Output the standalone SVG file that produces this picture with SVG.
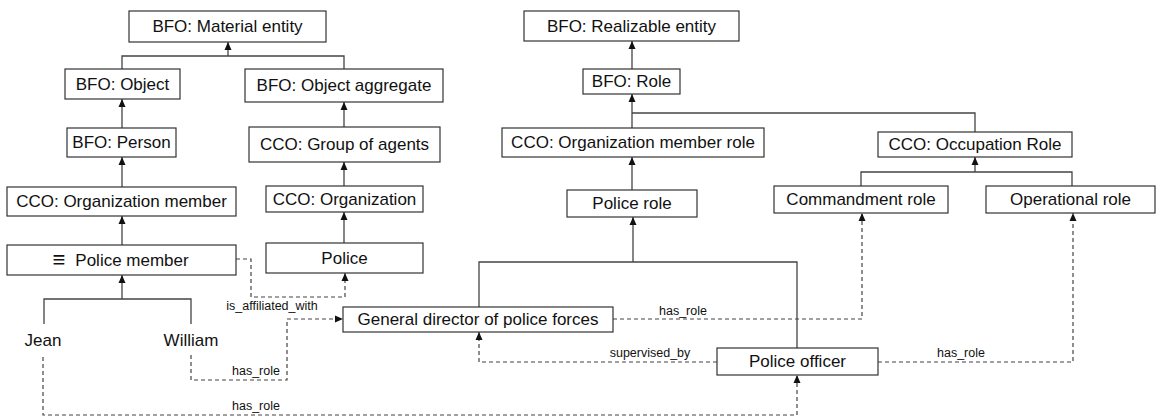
<svg xmlns="http://www.w3.org/2000/svg" width="1156" height="417" viewBox="0 0 1156 417">
<defs>
<marker id="ah" viewBox="0 0 8 8" refX="8" refY="4" markerWidth="8" markerHeight="8" markerUnits="userSpaceOnUse" orient="auto">
<path d="M0,0.5 L8,4 L0,7.5 Z" fill="#111"/>
</marker>
<style>
.box{fill:#fff;stroke:#333;stroke-width:1.2}
.t{font-family:"Liberation Sans",Arial,sans-serif;font-size:17px;fill:#111;text-anchor:middle}
.lbl{font-family:"Liberation Sans",Arial,sans-serif;font-size:12.5px;fill:#111;text-anchor:middle}
.s{fill:none;stroke:#444;stroke-width:1.3}
.d{fill:none;stroke:#444;stroke-width:1.2;stroke-dasharray:4 3}
</style>
</defs>
<rect width="1156" height="417" fill="#fff"/>
<g id="connectors">
<path class="s" d="M122,69 V56 H344 V69"/>
<path class="s" d="M228,56 V42" marker-end="url(#ah)"/>
<path class="s" d="M122,128 V99" marker-end="url(#ah)"/>
<path class="s" d="M122,187 V157" marker-end="url(#ah)"/>
<path class="s" d="M122,245 V216" marker-end="url(#ah)"/>
<path class="s" d="M44,324 V299 H191 V324"/>
<path class="s" d="M122,299 V275" marker-end="url(#ah)"/>
<path class="s" d="M344,127 V102" marker-end="url(#ah)"/>
<path class="s" d="M344,186 V162" marker-end="url(#ah)"/>
<path class="s" d="M344,243 V212" marker-end="url(#ah)"/>
<path class="s" d="M632,69 V41" marker-end="url(#ah)"/>
<path class="s" d="M632,128 V94" marker-end="url(#ah)"/>
<path class="s" d="M632,113 H975 V132"/>
<path class="s" d="M632,190 V157" marker-end="url(#ah)"/>
<path class="s" d="M861,186 V172 H1072 V186"/>
<path class="s" d="M975,172 V157" marker-end="url(#ah)"/>
<path class="s" d="M479,307 V262 H797 V348"/>
<path class="s" d="M633,262 V217" marker-end="url(#ah)"/>
<path class="d" d="M236,259 H251 V297 H345 V273" marker-end="url(#ah)"/>
<path class="d" d="M191,355 V380 H287 V319 H343" marker-end="url(#ah)"/>
<path class="d" d="M43,357 V415 H797 V375" marker-end="url(#ah)"/>
<path class="d" d="M613,319 H862 V213" marker-end="url(#ah)"/>
<path class="d" d="M717,362 H479 V332" marker-end="url(#ah)"/>
<path class="d" d="M878,362 H1073 V213" marker-end="url(#ah)"/>
<text class="lbl" x="272" y="310">is_affiliated_with</text>
<text class="lbl" x="256" y="375">has_role</text>
<text class="lbl" x="256" y="410">has_role</text>
<text class="lbl" x="683" y="315">has_role</text>
<text class="lbl" x="650" y="357">supervised_by</text>
<text class="lbl" x="961" y="357">has_role</text>
</g>
<g id="material-entity"><rect class="box" x="129" y="11" width="197" height="31"/><text class="t" x="227.5" y="32">BFO: Material entity</text></g>
<g id="object"><rect class="box" x="65" y="69" width="115" height="30"/><text class="t" x="122.5" y="90">BFO: Object</text></g>
<g id="object-aggregate"><rect class="box" x="245" y="69" width="198" height="33"/><text class="t" x="344" y="91">BFO: Object aggregate</text></g>
<g id="person"><rect class="box" x="67" y="128" width="109" height="29"/><text class="t" x="121.5" y="148">BFO: Person</text></g>
<g id="group-of-agents"><rect class="box" x="249" y="127" width="191" height="35"/><text class="t" x="344.5" y="150">CCO: Group of agents</text></g>
<g id="organization-member"><rect class="box" x="7" y="187" width="229" height="29"/><text class="t" x="121.5" y="207">CCO: Organization member</text></g>
<g id="organization"><rect class="box" x="266" y="186" width="157" height="26"/><text class="t" x="344.5" y="205">CCO: Organization</text></g>
<g id="police-member"><rect class="box" x="7" y="245" width="229" height="30"/><text class="t" x="59" y="267" style="font-size:22px">≡</text><text class="t" x="132" y="266">Police member</text></g>
<g id="police"><rect class="box" x="266" y="243" width="157" height="30"/><text class="t" x="344.5" y="264">Police</text></g>
<g id="jean"><text class="t" x="43" y="346">Jean</text></g>
<g id="william"><text class="t" x="191" y="346">William</text></g>
<g id="realizable-entity"><rect class="box" x="524" y="11" width="215" height="30"/><text class="t" x="631.5" y="32">BFO: Realizable entity</text></g>
<g id="role"><rect class="box" x="583" y="69" width="97" height="25"/><text class="t" x="631.5" y="87">BFO: Role</text></g>
<g id="organization-member-role"><rect class="box" x="502" y="128" width="262" height="29"/><text class="t" x="633" y="148">CCO: Organization member role</text></g>
<g id="occupation-role"><rect class="box" x="878" y="132" width="194" height="25"/><text class="t" x="975" y="150">CCO: Occupation Role</text></g>
<g id="police-role"><rect class="box" x="567" y="190" width="130" height="27"/><text class="t" x="632" y="209">Police role</text></g>
<g id="commandment-role"><rect class="box" x="774" y="186" width="174" height="27"/><text class="t" x="861" y="205">Commandment role</text></g>
<g id="operational-role"><rect class="box" x="986" y="186" width="169" height="27"/><text class="t" x="1070.5" y="205">Operational role</text></g>
<g id="general-director"><rect class="box" x="343" y="307" width="270" height="25"/><text class="t" x="478" y="325">General director of police forces</text></g>
<g id="police-officer"><rect class="box" x="717" y="348" width="161" height="27"/><text class="t" x="797.5" y="367">Police officer</text></g>
</svg>
